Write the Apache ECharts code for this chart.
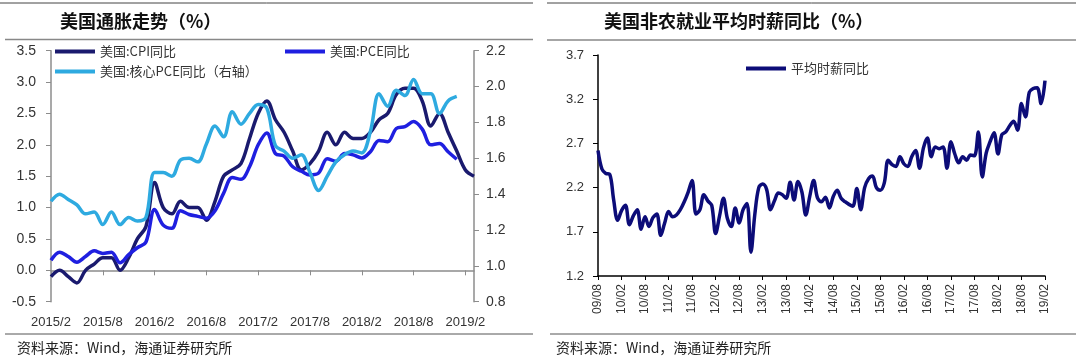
<!DOCTYPE html>
<html><head><meta charset="utf-8">
<script src="https://cdn.jsdelivr.net/npm/echarts@6.0.0/dist/echarts.min.js"></script>
<style>html,body{margin:0;padding:0;background:#fff}#c{width:1080px;height:359px}</style>
</head><body><div id="c"></div>
<script>
// ---- Left chart: US inflation (monthly, Jan 2015 .. Feb 2019, plotted at month-end dates) ----
const inflCategories = [];
for (let i = 0; i < 50; i++) { const t = 2015 * 12 + 1 + i; inflCategories.push(Math.floor(t / 12) + '/' + (t % 12 + 1)); }
const cpiYoY = [-0.1, 0.0, -0.1, -0.2, 0.0, 0.1, 0.2, 0.2, 0.0, 0.2, 0.5, 0.7,
  1.4, 1.0, 0.9, 1.1, 1.0, 1.0, 0.8, 1.1, 1.5, 1.6, 1.7, 2.1,
  2.5, 2.7, 2.4, 2.2, 1.9, 1.6, 1.7, 1.9, 2.2, 2.0, 2.2, 2.1,
  2.1, 2.2, 2.4, 2.5, 2.8, 2.9, 2.9, 2.7, 2.3, 2.5, 2.2, 1.9,
  1.6, 1.5];
const pceYoY = [0.16, 0.29, 0.22, 0.13, 0.22, 0.31, 0.27, 0.29, 0.12, 0.25, 0.36, 0.45,
  0.97, 0.72, 0.67, 0.95, 0.89, 0.86, 0.83, 0.95, 1.23, 1.48, 1.45, 1.65,
  2.00, 2.19, 1.86, 1.82, 1.65, 1.58, 1.52, 1.55, 1.78, 1.74, 1.86, 1.84,
  1.79, 1.89, 2.07, 2.05, 2.26, 2.29, 2.37, 2.25, 2.00, 2.02, 1.89, 1.77];
const corePceYoY = [1.36, 1.40, 1.37, 1.34, 1.29, 1.30, 1.23, 1.30, 1.23, 1.27, 1.25, 1.27,
  1.52, 1.52, 1.50, 1.59, 1.60, 1.58, 1.68, 1.78, 1.72, 1.86, 1.79, 1.85,
  1.90, 1.88, 1.67, 1.64, 1.60, 1.62, 1.52, 1.42, 1.50, 1.58, 1.62, 1.64,
  1.63, 1.75, 1.96, 1.89, 1.98, 1.95, 2.04, 1.96, 1.96, 1.85, 1.92, 1.945];
const inflNames = ['美国:CPI同比', '美国:PCE同比', '美国:核心PCE同比（右轴）'];

// ---- Right chart: average hourly earnings YoY (09/08 .. 19/02) ----
const wageCategories = [];
for (let i = 0; i < 115; i++) { const t = 2009 * 12 + 7 + i; const y = Math.floor(t / 12) % 100; const m = t % 12 + 1; wageCategories.push((y < 10 ? '0' : '') + y + '/' + (m < 10 ? '0' : '') + m); }
const wageYoY = [2.62, 2.41, 2.36, 2.35, 2.06, 1.83, 1.94, 2.00, 1.78, 1.88, 1.95, 1.73,
  1.87, 1.76, 1.86, 1.90, 1.66, 1.80, 1.93, 1.87, 1.89, 1.95, 2.04, 2.15,
  2.28, 1.90, 1.95, 2.12, 2.05, 2.00, 1.68, 1.88, 2.08, 1.85, 1.76, 1.97,
  1.80, 1.95, 2.02, 1.47, 1.90, 2.20, 2.24, 2.18, 1.95, 2.05, 2.14, 2.12,
  2.08, 2.26, 2.06, 2.27, 2.15, 1.89, 2.10, 2.28, 2.08, 2.04, 2.09, 1.97,
  2.10, 2.17, 2.08, 2.04, 2.01, 1.99, 2.19, 1.95, 2.20, 2.30, 2.33, 2.20,
  2.17, 2.25, 2.51, 2.46, 2.44, 2.55, 2.47, 2.44, 2.55, 2.62, 2.42, 2.65,
  2.76, 2.55, 2.66, 2.64, 2.66, 2.42, 2.72, 2.58, 2.48, 2.55, 2.51, 2.57,
  2.56, 2.83, 2.32, 2.59, 2.72, 2.82, 2.58, 2.80, 2.83, 2.90, 2.95, 2.85,
  3.15, 3.00, 3.28, 3.32, 3.33, 3.15, 3.41];
const wageName = '平均时薪同比';

const FONT = "'Liberation Sans','Noto Sans CJK SC',sans-serif";
const CJK = "'Noto Sans CJK SC',sans-serif";
const gray = '#8c8c8c';

const chart = echarts.init(document.getElementById('c'));
const legendBase = { orient: 'horizontal', padding: 0, itemWidth: 40, itemHeight: 4, icon: 'rect',
  textStyle: { fontSize: 13, color: '#333', fontFamily: CJK } };
chart.setOption({
  animation: false,
  backgroundColor: '#fff',
  textStyle: { fontFamily: FONT },
  grid: [
    { left: 51, top: 50.7, width: 423, height: 251 },
    { left: 598, top: 55, width: 447, height: 221 }
  ],
  legend: [
    Object.assign({}, legendBase, { data: [inflNames[0]], left: 55, top: 45 }),
    Object.assign({}, legendBase, { data: [inflNames[1]], left: 285, top: 45 }),
    Object.assign({}, legendBase, { data: [inflNames[2]], left: 55, top: 65 }),
    Object.assign({}, legendBase, { data: [wageName], left: 746, top: 62 })
  ],
  xAxis: [
    { type: 'category', gridIndex: 0, data: inflCategories, boundaryGap: false, position: 'bottom',
      axisLine: { onZero: true, onZeroAxisIndex: 0, lineStyle: { color: gray, width: 1.5 } },
      axisTick: { show: true, interval: 5, length: 5, lineStyle: { color: gray } },
      axisLabel: { show: false }, splitLine: { show: false } },
    { type: 'category', gridIndex: 0, data: inflCategories, boundaryGap: false, position: 'bottom',
      axisLine: { show: false, onZero: false }, axisTick: { show: false },
      axisLabel: { show: true, interval: 5, fontSize: 13, color: '#333', margin: 14 }, splitLine: { show: false } },
    { type: 'category', gridIndex: 1, data: wageCategories, boundaryGap: false, position: 'bottom',
      axisLine: { lineStyle: { color: '#000', width: 1.5 } },
      axisTick: { show: true, interval: 5, length: 4, lineStyle: { color: '#000' } },
      axisLabel: { interval: 5, rotate: 90, fontSize: 12, color: '#333', margin: 8 }, splitLine: { show: false } }
  ],
  yAxis: [
    { type: 'value', gridIndex: 0, min: -0.5, max: 3.5, interval: 0.5, position: 'left',
      axisLine: { show: true, lineStyle: { color: gray, width: 1.5 } },
      axisTick: { show: true, length: 5, lineStyle: { color: gray } },
      axisLabel: { fontSize: 14, color: '#333', margin: 15, formatter: v => v.toFixed(1) }, splitLine: { show: false } },
    { type: 'value', gridIndex: 0, min: 0.8, max: 2.2, interval: 0.2, position: 'right',
      axisLine: { show: true, lineStyle: { color: gray, width: 1.5 } },
      axisTick: { show: true, length: 5, lineStyle: { color: gray } },
      axisLabel: { fontSize: 14, color: '#333', margin: 12, formatter: v => v.toFixed(1) }, splitLine: { show: false } },
    { type: 'value', gridIndex: 1, min: 1.2, max: 3.7, interval: 0.5, position: 'left',
      axisLine: { show: true, lineStyle: { color: '#000', width: 1.5 } },
      axisTick: { show: true, length: 5, lineStyle: { color: '#000' } },
      axisLabel: { fontSize: 13, color: '#333', margin: 14, formatter: v => v.toFixed(1) }, splitLine: { show: false } }
  ],
  series: [
    { name: inflNames[0], type: 'line', xAxisIndex: 0, yAxisIndex: 0, data: cpiYoY, smooth: 0.35, showSymbol: false,
      lineStyle: { width: 3.5, color: '#1a1a6e' }, itemStyle: { color: '#1a1a6e' } },
    { name: inflNames[1], type: 'line', xAxisIndex: 0, yAxisIndex: 0, data: pceYoY, smooth: 0.35, showSymbol: false,
      lineStyle: { width: 3.5, color: '#1f1fe0' }, itemStyle: { color: '#1f1fe0' } },
    { name: inflNames[2], type: 'line', xAxisIndex: 0, yAxisIndex: 1, data: corePceYoY, smooth: 0.35, showSymbol: false,
      lineStyle: { width: 3.5, color: '#2eaae0' }, itemStyle: { color: '#2eaae0' } },
    { name: wageName, type: 'line', xAxisIndex: 2, yAxisIndex: 2, data: wageYoY, smooth: 0.35, showSymbol: false,
      lineStyle: { width: 3.5, color: '#0c0c78' }, itemStyle: { color: '#0c0c78' } }
  ],
  graphic: [
    { type: 'line', shape: { x1: 0, y1: 3, x2: 533, y2: 3 }, style: { stroke: '#444', lineWidth: 1 } },
    { type: 'line', shape: { x1: 5, y1: 39.5, x2: 533, y2: 39.5 }, style: { stroke: '#888', lineWidth: 1.5 } },
    { type: 'line', shape: { x1: 5, y1: 334, x2: 533, y2: 334 }, style: { stroke: '#555', lineWidth: 1 } },
    { type: 'line', shape: { x1: 547, y1: 3, x2: 1076, y2: 3 }, style: { stroke: '#444', lineWidth: 1 } },
    { type: 'line', shape: { x1: 547, y1: 40, x2: 1076, y2: 40 }, style: { stroke: '#888', lineWidth: 1.5 } },
    { type: 'line', shape: { x1: 550, y1: 334, x2: 1076, y2: 334 }, style: { stroke: '#555', lineWidth: 1 } },
    { type: 'text', x: 60, y: 21, style: { text: '美国通胀走势（%）', font: "bold 18px 'Noto Sans CJK SC'", fill: '#111', verticalAlign: 'middle' } },
    { type: 'text', x: 604, y: 21, style: { text: '美国非农就业平均时薪同比（%）', font: "bold 18px 'Noto Sans CJK SC'", fill: '#111', verticalAlign: 'middle' } },
    { type: 'text', x: 17, y: 348, style: { text: '资料来源：Wind，海通证券研究所', font: "14px 'Noto Sans CJK SC'", fill: '#222', verticalAlign: 'middle' } },
    { type: 'text', x: 556, y: 348, style: { text: '资料来源：Wind，海通证券研究所', font: "14px 'Noto Sans CJK SC'", fill: '#222', verticalAlign: 'middle' } }
  ]
});
</script></body></html>
